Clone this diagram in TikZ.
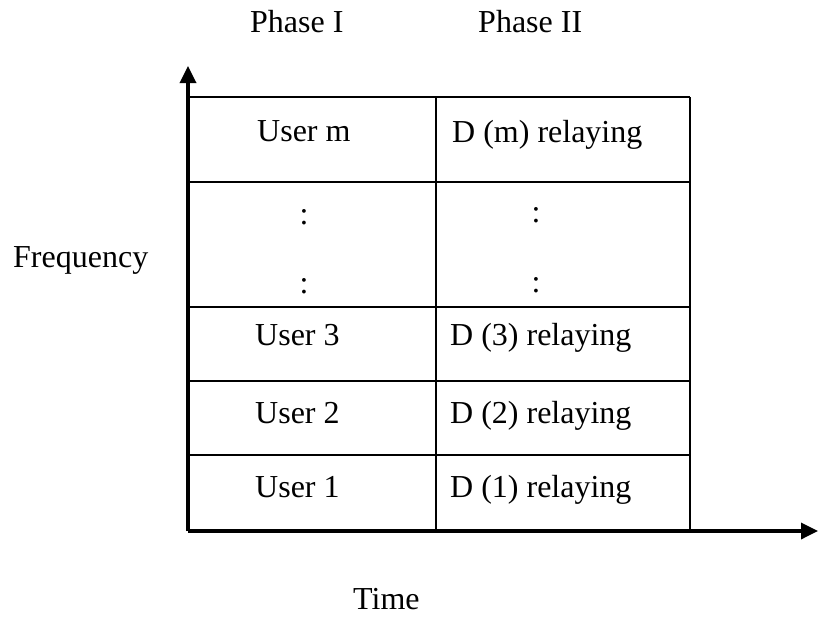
\documentclass[tikz,border=0pt]{standalone}
\usepackage{fontspec}
\setmainfont{Liberation Serif}
\usetikzlibrary{arrows.meta}
\begin{document}
\begin{tikzpicture}[x=1pt,y=-1pt,
  gridline/.style={line width=2.6pt,black},
  axisline/.style={line width=3.4pt,black,-{Triangle[length=17pt,width=16pt]}},
  lbl/.style={inner sep=0pt,font=\fontsize{32}{38}\selectfont},
]
\useasboundingbox (0,0) rectangle (818,618);

% axes
\coordinate (O) at (188,531);
\coordinate (ytip) at (188,66);
\coordinate (xtip) at (818,531);

% grid corners
\coordinate (tl) at (188,97);
\coordinate (tm) at (436,97);
\coordinate (tr) at (690,97);
\coordinate (bm) at (436,531);
\coordinate (br) at (690,531);

% time-frequency slots
\foreach \yy in {97,182,307,381,455}
  \draw[gridline] (188,\yy) -- (690,\yy);
\draw[gridline] (tm) -- (bm);
\draw[gridline] (tr) -- (br);

\draw[axisline] (O) -- (ytip);
\draw[axisline] (O) -- (xtip);

% column headings
\node[lbl,anchor=base west] (ph1) at (250,33) {Phase I};
\node[lbl,anchor=base west] (ph2) at (478,33) {Phase II};

% axis labels
\node[lbl,anchor=base west] (freq) at (13,267) {Frequency};
\node[lbl,anchor=base west] (time) at (353,609) {Time};

% phase I cells
\node[lbl,anchor=base west] (um) at (257,141) {User m};
\node[lbl,anchor=base] (c1) at (304,224) {:};
\node[lbl,anchor=base] (c2) at (304,293) {:};
\node[lbl,anchor=base west] (u3) at (255,345) {User 3};
\node[lbl,anchor=base west] (u2) at (255,423) {User 2};
\node[lbl,anchor=base west] (u1) at (255,497) {User 1};

% phase II cells
\node[lbl,anchor=base west] (dm) at (452,142) {D (m) relaying};
\node[lbl,anchor=base] (c3) at (536,222) {:};
\node[lbl,anchor=base] (c4) at (536,292) {:};
\node[lbl,anchor=base west] (d3) at (450,345) {D (3) relaying};
\node[lbl,anchor=base west] (d2) at (450,423) {D (2) relaying};
\node[lbl,anchor=base west] (d1) at (450,497) {D (1) relaying};
\end{tikzpicture}
\end{document}
